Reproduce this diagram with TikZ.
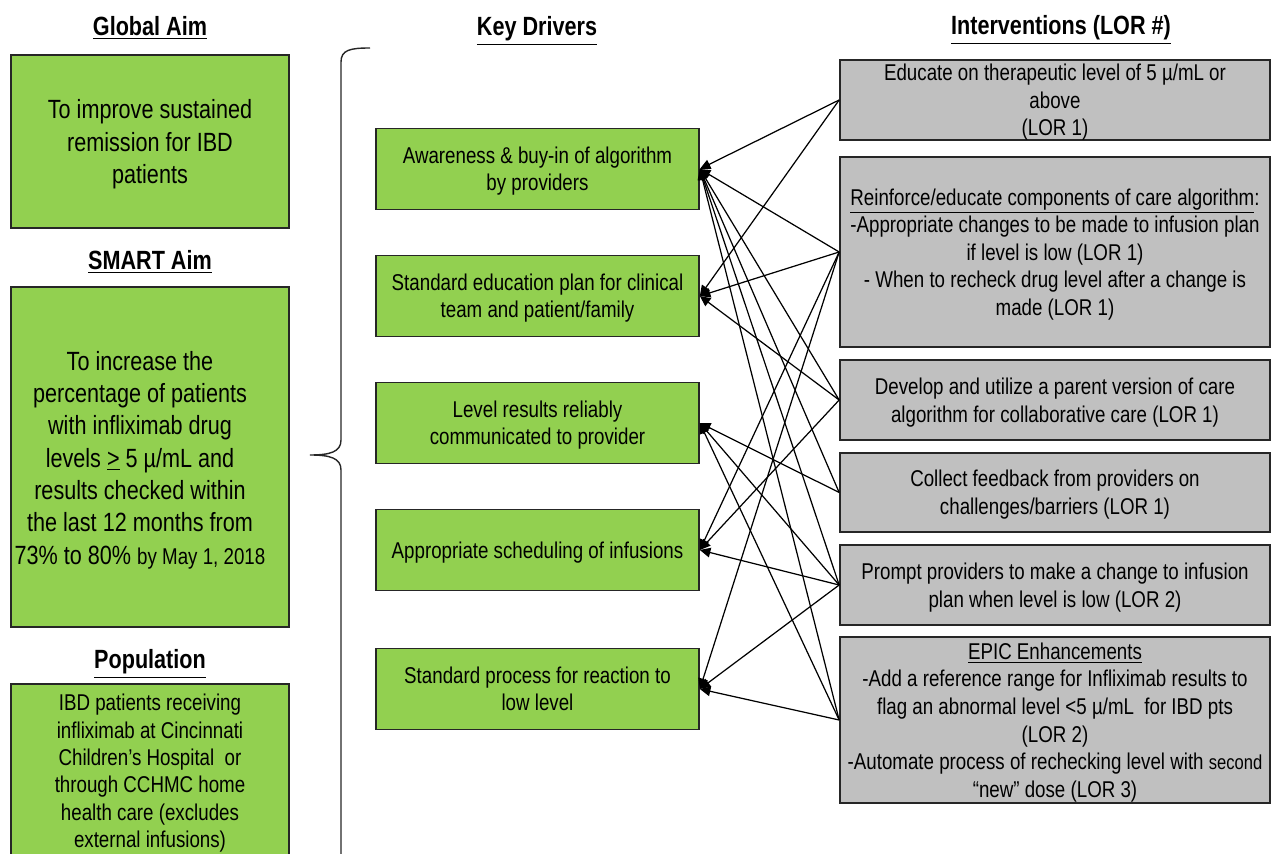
\documentclass[tikz,border=0pt]{standalone}
\usepackage{fontspec}
\setmainfont[FakeStretch=0.82]{Liberation Sans}
\usepackage{tikz}
\usetikzlibrary{arrows.meta}
\usepackage{xcolor}
\definecolor{aimgreen}{HTML}{92D050}
\definecolor{lorgray}{HTML}{C0C0C0}
\definecolor{boxline}{HTML}{262626}

\begin{document}
\begin{tikzpicture}[x=0.02cm, y=-0.02cm,
    greenbox/.style={draw=boxline, fill=aimgreen, line width=1pt, inner sep=0pt, align=center,
                     text depth=0pt},
    aimbox/.style={greenbox, minimum width=5.56cm, font=\fontsize{15}{18.3}\selectfont},
    drvbox/.style={greenbox, minimum width=6.46cm, minimum height=1.62cm,
                   font=\fontsize{13}{15.5}\selectfont},
    lorbox/.style={draw=boxline, fill=lorgray, line width=1pt, inner sep=0pt, align=center,
                   text depth=0pt, minimum width=8.6cm, font=\fontsize{13}{15.7}\selectfont},
    colhead/.style={anchor=base, font=\bfseries\fontsize{15}{18}\selectfont},
    lorlink/.style={-{Triangle[length=6pt, width=5.5pt]}, line width=0.7pt}]

  \clip (0,0) rectangle (1272,854);

  % column headings
  \node[colhead] (hglobal) at (150,36) {\underline{Global Aim}};
  \node[colhead] (hsmart) at (150,270) {\underline{SMART Aim}};
  \node[colhead] (hpop) at (150,669) {\underline{Population}};
  \node[colhead] (hdrivers) at (537,36) {\underline{Key Drivers}};
  \node[colhead] (hinterv) at (1061,35) {\underline{Interventions (LOR \#)}};

  % aims
  \node[aimbox, minimum height=3.46cm] (global) at (150,141.5)
    {To improve sustained\\ remission for IBD\\ patients};
  \node[aimbox, minimum height=6.8cm] (smart) at (150,457) {};
  \node[align=center, font=\fontsize{15}{18.4}\selectfont] (smarttxt) at (140,460)
    {To increase the\\ percentage of patients\\ with infliximab drug\\
     levels \underline{>} 5 µ/mL and\\ results checked within\\ the last 12 months from\\
     73\% to 80\% {\fontsize{13}{15}\selectfont by May 1, 2018}};
  \node[aimbox, anchor=north, minimum height=3.48cm, font=\fontsize{13}{15.6}\selectfont] (pop) at (150,683)
    {IBD patients receiving\\ infliximab at Cincinnati\\ Children’s Hospital\ \ or\\
     through CCHMC home\\ health care (excludes\\ external infusions)};

  % brace
  \draw[line width=0.8pt, boxline]
    (370,48) .. controls (350,48) and (341,50) .. (341,62) -- (341,440)
    .. controls (341,452) and (330,455) .. (310,455)
    .. controls (330,455) and (341,458) .. (341,470) -- (341,860);

  % key drivers
  \node[drvbox] (d1) at (537.5,169) {Awareness \& buy-in of algorithm\\ by providers};
  \node[drvbox] (d2) at (537.5,296) {Standard education plan for clinical\\ team and patient/family};
  \node[drvbox] (d3) at (537.5,423) {Level results reliably\\ communicated to provider};
  \node[drvbox] (d4) at (537.5,550) {Appropriate scheduling of infusions};
  \node[drvbox] (d5) at (537.5,689) {Standard process for reaction to\\ low level};

  % interventions
  \node[lorbox, minimum height=1.6cm] (i1) at (1055,100)
    {Educate on therapeutic level of 5 µ/mL or\\ above\\ (LOR 1)};
  \node[lorbox, minimum height=3.8cm] (i2) at (1055,252)
    {\underline{Reinforce/educate components of care algorithm}:\\
     -Appropriate changes to be made to infusion plan\\ if level is low (LOR 1)\\
     - When to recheck drug level after a change is\\ made (LOR 1)};
  \node[lorbox, minimum height=1.6cm] (i3) at (1055,400)
    {Develop and utilize a parent version of care\\ algorithm for collaborative care (LOR 1)};
  \node[lorbox, minimum height=1.58cm] (i4) at (1055,492.5)
    {Collect feedback from providers on\\ challenges/barriers (LOR 1)};
  \node[lorbox, minimum height=1.6cm] (i5) at (1055,585)
    {Prompt providers to make a change to infusion\\ plan when level is low (LOR 2)};
  \node[lorbox, minimum height=3.32cm] (i6) at (1055,720)
    {\underline{EPIC Enhancements}\\
     -Add a reference range for Infliximab results to\\
     flag an abnormal level <5 µ/mL\ \ for IBD pts\\ (LOR 2)\\
     -Automate process of rechecking level with {\fontsize{11.5}{14}\selectfont second}\\
     “new” dose (LOR 3)};

  % links
  \draw[lorlink] (i1.west) -- (d1.east);
  \draw[lorlink] (i1.west) -- (d2.east);
  \draw[lorlink] (i2.west) -- (d1.east);
  \draw[lorlink] (i2.west) -- (d2.east);
  \draw[lorlink] (i2.west) -- (d4.east);
  \draw[lorlink] (i2.west) -- (d5.east);
  \draw[lorlink] (i3.west) -- (d1.east);
  \draw[lorlink] (i3.west) -- (d2.east);
  \draw[lorlink] (i3.west) -- (d4.east);
  \draw[lorlink] (i4.west) -- (d1.east);
  \draw[lorlink] (i4.west) -- (d3.east);
  \draw[lorlink] (i5.west) -- (d1.east);
  \draw[lorlink] (i5.west) -- (d3.east);
  \draw[lorlink] (i5.west) -- (d4.east);
  \draw[lorlink] (i5.west) -- (d5.east);
  \draw[lorlink] (i6.west) -- (d1.east);
  \draw[lorlink] (i6.west) -- (d3.east);
  \draw[lorlink] (i6.west) -- (d5.east);
\end{tikzpicture}
\end{document}
